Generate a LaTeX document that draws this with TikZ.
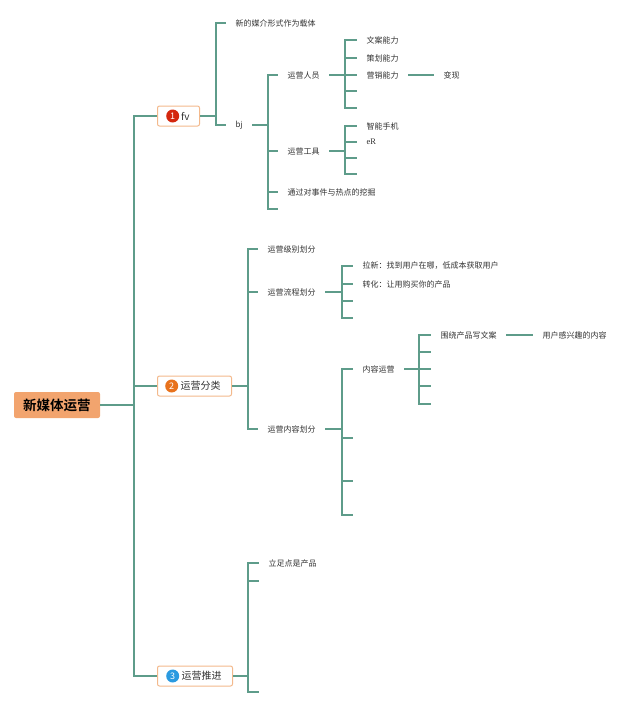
\documentclass[tikz,border=0pt]{standalone}
\usepackage{fontspec}
\newfontfamily\cjk{Noto Sans CJK SC}[BoldFont={Noto Sans CJK SC Bold}]
\newfontfamily\lserif{Liberation Serif}
\usetikzlibrary{positioning}
\definecolor{linegreen}{HTML}{5E9C8A}
\definecolor{rootorange}{HTML}{F2A46E}
\definecolor{boxorange}{HTML}{F3B98C}
\definecolor{numred}{HTML}{D4270E}
\definecolor{numorange}{HTML}{E8721C}
\definecolor{numblue}{HTML}{2A9AE0}
\definecolor{textgray}{HTML}{333333}
\tikzset{
  conn/.style    = { draw=linegreen, line width=1.4pt },
  rootbox/.style = { fill=rootorange, rounded corners=2pt, minimum width=86pt,
    minimum height=26pt, inner sep=0pt, font=\cjk\bfseries\fontsize{13.5}{14}\selectfont },
  topic/.style   = { draw=boxorange, line width=1pt, fill=white, rounded corners=2pt,
    minimum height=20pt, anchor=west, inner sep=0pt },
  num/.style     = { circle, inner sep=0pt, minimum size=13pt, text=white,
    font=\cjk\fontsize{9}{9}\selectfont },
  topictxt/.style= { inner sep=0pt, text=textgray, font=\cjk\fontsize{10}{10}\selectfont },
  leaf/.style    = { anchor=west, inner sep=0pt, outer xsep=9.5pt, text=textgray,
    font=\cjk\fontsize{8}{8}\selectfont }
}
\begin{document}
\begin{tikzpicture}[x=1pt,y=-1pt]
  \useasboundingbox (0,0) rectangle (640,707);
  % root and main topics
  \node[rootbox] (root) at (57,405) {新媒体运营};
  \coordinate (rj) at (134,405);
  \node[topic, minimum width=42pt] (b1) at (157,116) {};
  \node[num, fill=numred, right=9pt of b1.west] (n1) {1};
  \node[topictxt, right=1.5pt of n1] (t1) {fv};
  \node[topic, minimum width=74pt] (b2) at (157,386) {};
  \node[num, fill=numorange, right=8pt of b2.west] (n2) {2};
  \node[topictxt, right=2pt of n2] (t2) {运营分类};
  \node[topic, minimum width=75pt] (b3) at (157,676) {};
  \node[num, fill=numblue, right=9pt of b3.west] (n3) {3};
  \node[topictxt, right=2pt of n3] (t3) {运营推进};
  \draw[conn] (root) -- (rj);
  \draw[conn] (rj) |- (b1.west);
  \draw[conn] (rj) |- (b2.west);
  \draw[conn] (rj) |- (b3.west);

  % 1: fv
  \coordinate (b1j) at (216,116);
  \node[leaf] (c11) at (226,23) {新的媒介形式作为载体};
  \node[leaf] (c12) at (226,125) {bj};
  \draw[conn] (b1.east) -- (b1j);
  \draw[conn] (b1j) |- (c11.west);
  \draw[conn] (b1j) |- (c12.west);

  \coordinate (dj) at (268,125);
  \node[leaf] (d1) at (278,75) {运营人员};
  \node[leaf] (d2) at (278,151) {运营工具};
  \node[leaf] (d3) at (278,192) {通过对事件与热点的挖掘};
  \coordinate (d4) at (278,209);
  \draw[conn] (c12.east) -- (dj);
  \foreach \n in {d1,d2,d3} \draw[conn] (dj) |- (\n.west);
  \draw[conn] (dj) |- (d4);

  \coordinate (ej) at (345,75);
  \node[leaf] (e1) at (357,40) {文案能力};
  \node[leaf] (e2) at (357,58) {策划能力};
  \node[leaf] (e3) at (357,75) {营销能力};
  \node[leaf] (f1) at (434,75) {变现};
  \draw[conn] (d1.east) -- (ej);
  \foreach \n in {e1,e2,e3} \draw[conn] (ej) |- (\n.west);
  \foreach \y/\n in {91/e4,108/e5} {
    \coordinate (\n) at (357,\y);
    \draw[conn] (ej) |- (\n);
  }
  \draw[conn] (e3.east) -- (f1.west);

  \coordinate (gj) at (345,151);
  \node[leaf] (g1) at (357,126) {智能手机};
  \node[leaf, font=\lserif\fontsize{8.5}{8.5}\selectfont] (g2) at (357,142) {eR};
  \draw[conn] (d2.east) -- (gj);
  \foreach \n in {g1,g2} \draw[conn] (gj) |- (\n.west);
  \foreach \y/\n in {158/g3,174/g4} {
    \coordinate (\n) at (357,\y);
    \draw[conn] (gj) |- (\n);
  }

  % 2: 运营分类
  \coordinate (b2j) at (248,386);
  \node[leaf] (h1) at (258,249) {运营级别划分};
  \node[leaf] (h2) at (258,292) {运营流程划分};
  \node[leaf] (h3) at (258,429) {运营内容划分};
  \draw[conn] (b2.east) -- (b2j);
  \foreach \n in {h1,h2,h3} \draw[conn] (b2j) |- (\n.west);

  \coordinate (ij) at (342,292);
  \node[leaf] (i1) at (353,266) {拉新：找到用户在哪，低成本获取用户};
  \node[leaf] (i2) at (353,284) {转化：让用购买你的产品};
  \draw[conn] (h2.east) -- (ij);
  \foreach \n in {i1,i2} \draw[conn] (ij) |- (\n.west);
  \foreach \y/\n in {301/i3,318/i4} {
    \coordinate (\n) at (353,\y);
    \draw[conn] (ij) |- (\n);
  }

  \coordinate (jj) at (342,429);
  \node[leaf] (j1) at (353,369) {内容运营};
  \draw[conn] (h3.east) -- (jj);
  \draw[conn] (jj) |- (j1.west);
  \foreach \y/\n in {438/j2,481/j3,515/j4} {
    \coordinate (\n) at (353,\y);
    \draw[conn] (jj) |- (\n);
  }

  \coordinate (kj) at (419,369);
  \node[leaf] (k1) at (431,335) {围绕产品写文案};
  \node[leaf] (l1) at (533,335) {用户感兴趣的内容};
  \draw[conn] (j1.east) -- (kj);
  \draw[conn] (kj) |- (k1.west);
  \foreach \y/\n in {352/k2,369/k3,386/k4,404/k5} {
    \coordinate (\n) at (431,\y);
    \draw[conn] (kj) |- (\n);
  }
  \draw[conn] (k1.east) -- (l1.west);

  % 3: 运营推进
  \coordinate (b3j) at (248,676);
  \node[leaf] (m1) at (259,563) {立足点是产品};
  \draw[conn] (b3.east) -- (b3j);
  \draw[conn] (b3j) |- (m1.west);
  \foreach \y/\n in {581/m2,692/m3} {
    \coordinate (\n) at (259,\y);
    \draw[conn] (b3j) |- (\n);
  }
\end{tikzpicture}
\end{document}
